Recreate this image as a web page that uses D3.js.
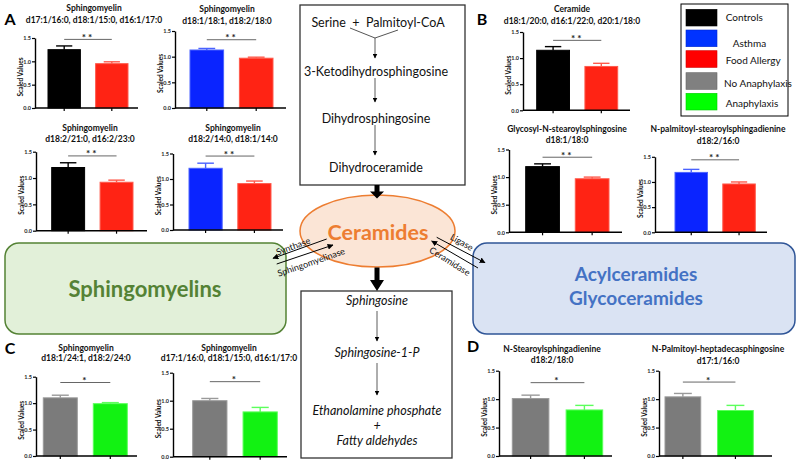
<!DOCTYPE html>
<html><head><meta charset="utf-8">
<script src="https://cdn.jsdelivr.net/npm/d3@7"></script>
<style>body{margin:0;background:#fff} svg{display:block}</style>
</head><body><svg id="c" width="800" height="463"></svg>
<script>
// ---------------- DATA ----------------
const groupNames = ["Controls","Asthma","Food Allergy","No Anaphylaxis","Anaphylaxis"];
const groupFill  = ["#000000","#0a24ff","#ff2314","#7b7b7b","#12f212"];
const groupEdge  = ["#000000","#4a62ff","#ff5a4c","#9a9a9a","#5cff5c"];
const legendFill = ["#000000","#0033ff","#ff0000","#808080","#00ff00"];

const chartTitle1 = ["Sphingomyelin","Sphingomyelin","Sphingomyelin","Sphingomyelin",
  "Ceramide","Glycosyl-N-stearoylsphingosine","N-palmitoyl-stearoylsphingadienine",
  "Sphingomyelin","Sphingomyelin","N-Stearoylsphingadienine","N-Palmitoyl-heptadecasphingosine"];
const chartTitle2 = ["d17:1/16:0, d18:1/15:0, d16:1/17:0","d18:1/18:1, d18:2/18:0",
  "d18:2/21:0, d16:2/23:0","d18:2/14:0, d18:1/14:0",
  "d18:1/20:0, d16:1/22:0, d20:1/18:0","d18:1/18:0","d18:2/16:0",
  "d18:1/24:1, d18:2/24:0","d17:1/16:0, d18:1/15:0, d16:1/17:0","d18:2/18:0","d17:1/16:0"];
const chartGroups = [[0,2],[1,2],[0,2],[1,2],[0,2],[0,2],[1,2],[3,4],[3,4],[3,4],[3,4]];
const chartMeans  = [[1.25,0.95],[1.13,0.97],[1.20,0.92],[1.21,0.91],[1.15,0.84],[1.19,0.97],
                     [1.19,0.96],[1.10,0.99],[1.00,0.80],[1.01,0.81],[1.04,0.80]];
const chartErrors = [[0.08,0.04],[0.03,0.02],[0.09,0.04],[0.10,0.05],[0.07,0.06],[0.05,0.03],
                     [0.06,0.04],[0.05,0.02],[0.04,0.08],[0.06,0.08],[0.06,0.09]];
const chartSig      = ["**","**","**","**","**","**","**","*","*","*","*"];
const chartSigLevel = [1.47,1.33,1.42,1.45,1.34,1.36,1.44,1.39,1.34,1.29,1.30];
const yTicks = [0,0.5,1.0,1.5];
const yLabel = "Scaled Values";

const topPathway = ["Serine  +  Palmitoyl-CoA","3-Ketodihydrosphingosine","Dihydrosphingosine","Dihydroceramide"];
const bottomPathway = ["Sphingosine","Sphingosine-1-P","Ethanolamine phosphate","+","Fatty aldehydes"];

// ---------------- LAYOUT ----------------
const layout = [
  {x0:35, x1:138, y0:108,   y15:38,    b0:48,    b1:128,   tx:94,  t1:8,     t2:20},
  {x0:175,x1:286, y0:108,   y15:31,    b0:190,   b1:273,   tx:227, t1:8.5,   t2:20.5},
  {x0:36, x1:147, y0:230.7, y15:151.7, b0:51.7,  b1:133,   tx:90,  t1:128,   t2:139},
  {x0:173,x1:283, y0:230,   y15:153.5, b0:189,   b1:271,   tx:233, t1:128,   t2:139},
  {x0:523,x1:630, y0:110.3, y15:32,    b0:536.7, b1:617.7, tx:572, t1:9,     t2:21},
  {x0:509,x1:622, y0:232.3, y15:149.5, b0:525.7, b1:609,   tx:567, t1:129,   t2:140},
  {x0:655,x1:767, y0:232.3, y15:156.8, b0:675,   b1:755.3, tx:718, t1:129,   t2:141},
  {x0:36, x1:137, y0:456,   y15:376.7, b0:43.3,  b1:127.3, tx:86,  t1:347.5, t2:358},
  {x0:173,x1:287, y0:456.7, y15:372.7, b0:192.7, b1:277.3, tx:229, t1:347.5, t2:358},
  {x0:499,x1:612, y0:456,   y15:370.7, b0:512.3, b1:602.7, tx:552, t1:349,   t2:360},
  {x0:659,x1:772, y0:456,   y15:370.7, b0:665,   b1:753.3, tx:718, t1:349,   t2:360.7}
];

const FONT = "Lato, 'Open Sans', sans-serif";
const svg = d3.select("#c").attr("font-family", FONT);

const defs = svg.append("defs");
function marker(id, size){
  defs.append("marker").attr("id",id).attr("viewBox","0 0 10 10").attr("refX",9).attr("refY",5)
    .attr("markerWidth",size).attr("markerHeight",size).attr("markerUnits","userSpaceOnUse")
    .attr("orient","auto").append("path").attr("d","M0,0L10,5L0,10z").attr("fill","#000");
}
marker("ah",6); marker("ahs",5);

// ---------------- DIAGRAM ----------------
svg.append("rect").attr("x",5).attr("y",243).attr("width",281).attr("height",91).attr("rx",14)
  .attr("fill","#e2f0d9").attr("stroke","#548235").attr("stroke-width",1.5);
svg.append("text").attr("x",145).attr("y",288).attr("text-anchor","middle").attr("dominant-baseline","central")
  .attr("font-size",22).attr("font-weight",700).attr("fill","#548235").text("Sphingomyelins");
svg.append("rect").attr("x",473).attr("y",243).attr("width",322).attr("height",91).attr("rx",14)
  .attr("fill","#dae3f3").attr("stroke","#2f5597").attr("stroke-width",1.5);
svg.append("text").attr("x",636).attr("y",273).attr("text-anchor","middle").attr("dominant-baseline","central")
  .attr("font-size",19).attr("font-weight",700).attr("fill","#4472c4").text("Acylceramides");
svg.append("text").attr("x",636).attr("y",297).attr("text-anchor","middle").attr("dominant-baseline","central")
  .attr("font-size",19).attr("font-weight",700).attr("fill","#4472c4").text("Glycoceramides");

svg.append("rect").attr("x",300).attr("y",5).attr("width",165).attr("height",180)
  .attr("fill","#fff").attr("stroke","#333").attr("stroke-width",1.3);
const topY = [22,71,118,167];
topPathway.forEach((t,i)=>{
  svg.append("text").attr("x",i===0?378:376).attr("y",topY[i]).attr("text-anchor","middle").attr("dominant-baseline","central")
    .attr("font-size",12.5).style("white-space","pre").attr("fill","#111").text(t);
});
svg.append("path").attr("d","M350,28L375,38L398,30").attr("fill","none").attr("stroke","#555").attr("stroke-width",1);
[[38,58],[78,102],[125,155]].forEach(([a,b])=>{
  svg.append("line").attr("x1",375).attr("x2",375).attr("y1",a).attr("y2",b).attr("stroke","#333").attr("stroke-width",0.8).attr("marker-end","url(#ahs)");
});

svg.append("rect").attr("x",301).attr("y",291).attr("width",151).attr("height",167)
  .attr("fill","#fff").attr("stroke","#333").attr("stroke-width",1.3);
const botY = [300,352,410,425,440];
bottomPathway.forEach((t,i)=>{
  svg.append("text").attr("x",377).attr("y",botY[i]).attr("text-anchor","middle").attr("dominant-baseline","central")
    .attr("font-size",12.5).attr("font-style","italic").attr("fill","#111").text(t);
});
[[311,341],[363,395]].forEach(([a,b])=>{
  svg.append("line").attr("x1",377).attr("x2",377).attr("y1",a).attr("y2",b).attr("stroke","#333").attr("stroke-width",0.8).attr("marker-end","url(#ahs)");
});

svg.append("ellipse").attr("cx",377.5).attr("cy",231).attr("rx",77.5).attr("ry",36)
  .attr("fill","#fbe5d6").attr("stroke","#ed7d31").attr("stroke-width",1.5);
svg.append("text").attr("x",378).attr("y",232).attr("text-anchor","middle").attr("dominant-baseline","central")
  .attr("font-size",21.5).attr("font-weight",700).attr("fill","#ed7d31").text("Ceramides");

function thick(x, yA, yB, yC){
  svg.append("path").attr("d",`M${x-2.5},${yA}L${x+2.5},${yA}L${x+2.5},${yB}L${x+7},${yB}L${x},${yC}L${x-7},${yB}L${x-2.5},${yB}Z`).attr("fill","#000");
}
thick(377,185,191.5,198.5);
thick(377,267.5,280,291);

const diag = [[326.7,239,273,258.3],[276.7,264,333,245],[436.7,237.3,485,262.7],[478,268,431.7,241]];
diag.forEach(d=>{
  svg.append("line").attr("x1",d[0]).attr("y1",d[1]).attr("x2",d[2]).attr("y2",d[3])
    .attr("stroke","#000").attr("stroke-width",1).attr("marker-end","url(#ah)");
});
const enzymes = [["Synthase",293,246,-20],["Sphingomyelinase",311,262,-19],["Ligase",462,242,30],["Ceramidase",450,261,32]];
enzymes.forEach(e=>{
  svg.append("text").attr("transform",`translate(${e[1]},${e[2]}) rotate(${e[3]})`)
    .attr("text-anchor","middle").attr("dominant-baseline","central").attr("font-size",9).attr("fill","#111").text(e[0]);
});

[["A",10,18],["B",482,18],["C",10,347],["D",473,345]].forEach(p=>{
  svg.append("text").attr("x",p[1]).attr("y",p[2]).attr("text-anchor","middle").attr("dominant-baseline","central")
    .attr("font-size",16).attr("font-weight",700).attr("fill","#000").text(p[0]);
});

svg.append("rect").attr("x",681).attr("y",4).attr("width",107).attr("height",112).attr("fill","#fff").attr("stroke","#000").attr("stroke-width",1);
const legSwY = [9.3,30,50.7,72.7,93.3];
const legTx  = [725.7,732.7,725.7,724,725.7];
const legTy  = [17.3,43.3,60,82.7,103.3];
groupNames.forEach((n,i)=>{
  svg.append("rect").attr("x",686).attr("y",legSwY[i]).attr("width",31).attr("height",16.7)
    .attr("fill",legendFill[i]).attr("stroke",d3.color(legendFill[i]).darker(0.6)).attr("stroke-width",0.6);
  svg.append("text").attr("x",legTx[i]).attr("y",legTy[i]).attr("dominant-baseline","central")
    .attr("font-size",10).attr("fill","#111").text(n);
});

// ---------------- BAR CHARTS ----------------
layout.forEach((L,i)=>{
  const g = svg.append("g");
  const names = chartGroups[i].map(k=>groupNames[k]);
  const y = d3.scaleLinear().domain([0,1.5]).range([L.y0, L.y15]);
  const x = d3.scaleBand().domain(names).range([L.b0,L.b1]).paddingInner(0.32).paddingOuter(0);
  const bw = x.bandwidth();

  g.append("text").attr("x",L.tx).attr("y",L.t1).attr("text-anchor","middle").attr("dominant-baseline","central")
    .attr("font-size",8.5).attr("font-weight",700).attr("fill","#111").text(chartTitle1[i]);
  g.append("text").attr("x",L.tx).attr("y",L.t2).attr("text-anchor","middle").attr("dominant-baseline","central")
    .attr("font-size",8.5).attr("font-weight",700).attr("fill","#111").text(chartTitle2[i]);

  names.forEach((n,j)=>{
    const k = chartGroups[i][j];
    const m = chartMeans[i][j], e = chartErrors[i][j];
    const cx = x(n)+bw/2;
    g.append("line").attr("x1",cx).attr("x2",cx).attr("y1",y(m)).attr("y2",y(m+e)).attr("stroke",groupEdge[k]).attr("stroke-width",1.4);
    g.append("line").attr("x1",cx-bw*0.25).attr("x2",cx+bw*0.25).attr("y1",y(m+e)).attr("y2",y(m+e)).attr("stroke",groupEdge[k]).attr("stroke-width",1.4);
    g.append("rect").attr("x",x(n)).attr("y",y(m)).attr("width",bw).attr("height",L.y0-y(m))
      .attr("fill",groupFill[k]).attr("stroke",groupEdge[k]).attr("stroke-width",1);
  });

  const ya = g.append("g").attr("transform",`translate(${L.x0},0)`)
    .call(d3.axisLeft(y).tickValues(yTicks).tickFormat(d3.format(".1f")).tickSize(3).tickSizeOuter(0).tickPadding(1));
  ya.select(".domain").attr("stroke","#000").attr("stroke-width",1.4);
  ya.selectAll(".tick line").attr("stroke","#000").attr("stroke-width",1.2);
  ya.selectAll(".tick text").attr("font-size",5.5).attr("font-weight",700).attr("fill","#222").attr("font-family",FONT);

  const xa = g.append("g").attr("transform",`translate(0,${L.y0})`)
    .call(d3.axisBottom(x).tickSize(3).tickSizeOuter(0).tickFormat(""));
  xa.select(".domain").remove();
  xa.selectAll(".tick line").attr("stroke","#000").attr("stroke-width",1.2);
  xa.append("line").attr("x1",L.x0).attr("x2",L.x1).attr("y1",0).attr("y2",0).attr("stroke","#000").attr("stroke-width",1.4);

  g.append("text").attr("transform",`translate(${L.x0-15},${(L.y0+L.y15)/2+4}) rotate(-90)`)
    .attr("text-anchor","middle").attr("dominant-baseline","central").attr("font-size",6.5).attr("font-weight",700)
    .attr("fill","#111").text(yLabel);

  const c1 = x(names[0])+bw/2, c2 = x(names[1])+bw/2;
  const sy = y(chartSigLevel[i]);
  g.append("line").attr("x1",c1).attr("x2",c2).attr("y1",sy).attr("y2",sy).attr("stroke","#555").attr("stroke-width",0.9);
  g.append("text").attr("x",(c1+c2)/2).attr("y",sy+1.5).attr("text-anchor","middle")
    .attr("font-size",10).attr("font-weight",700).attr("letter-spacing",2).attr("fill","#222").text(chartSig[i]);
});
</script></body></html>
